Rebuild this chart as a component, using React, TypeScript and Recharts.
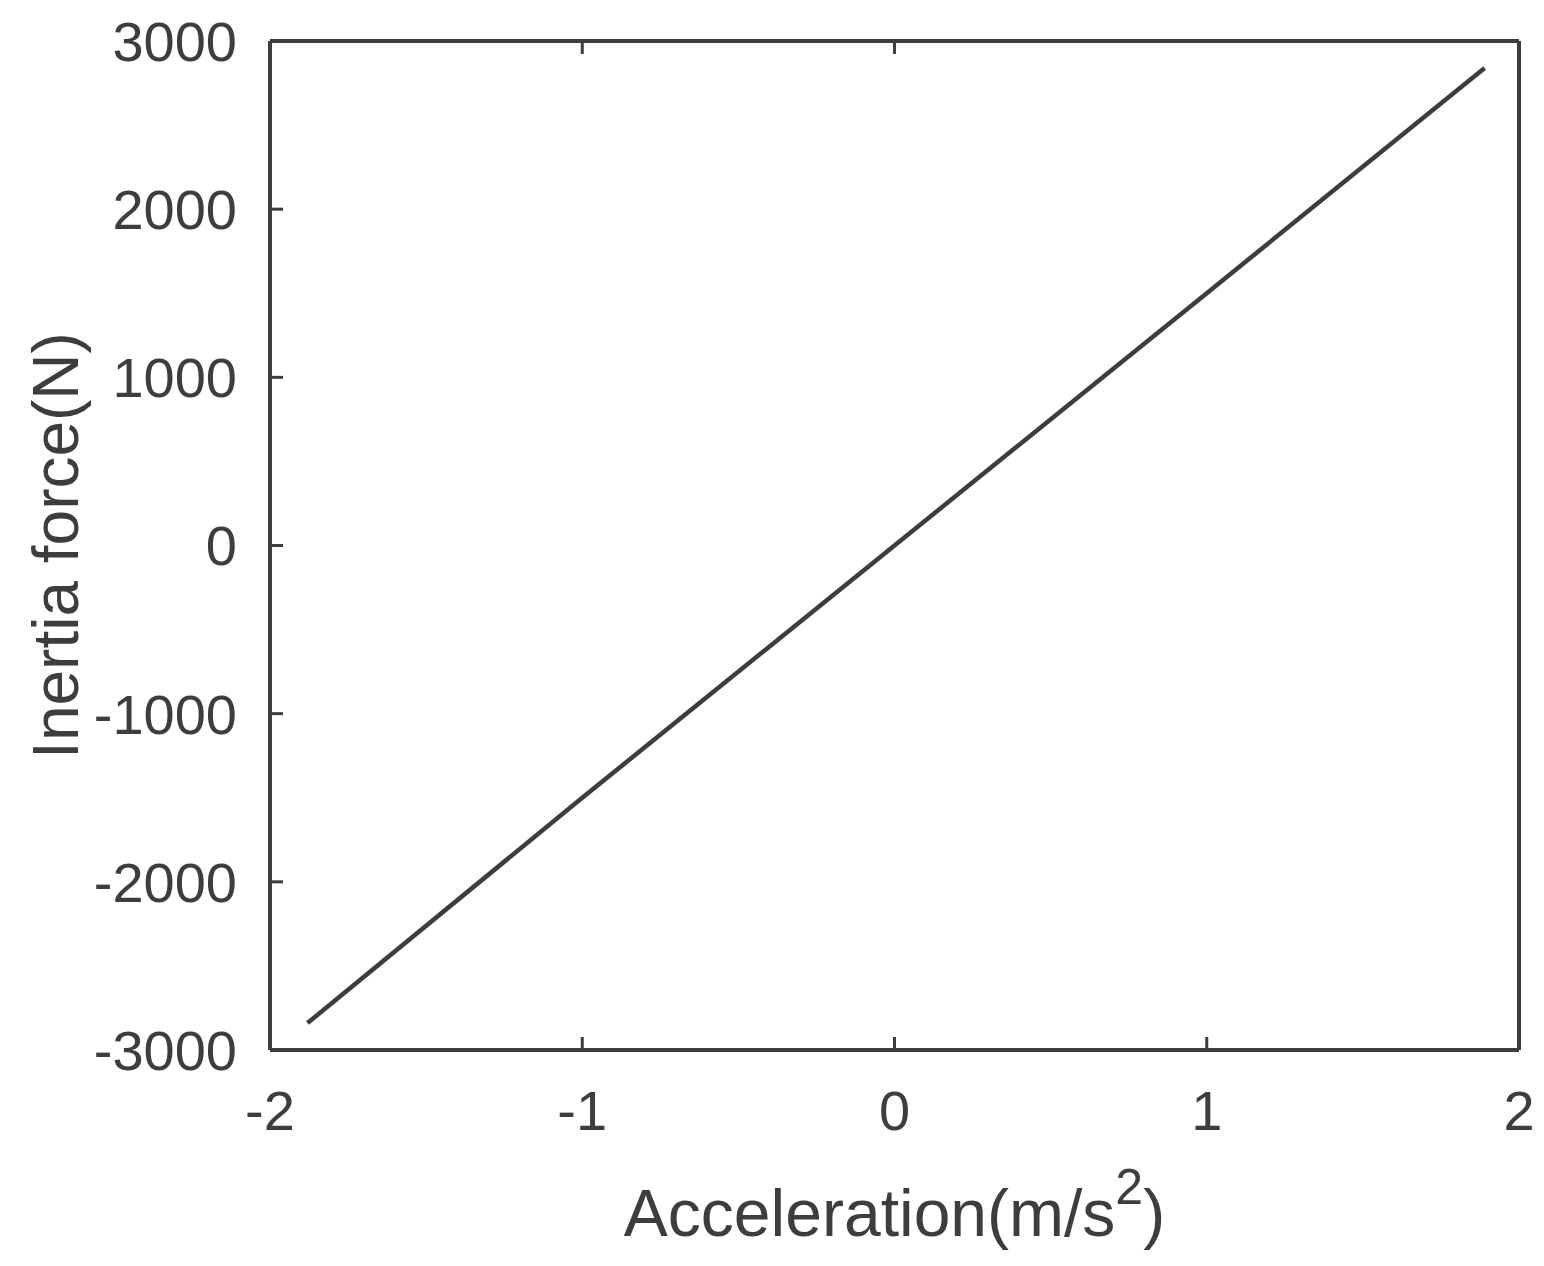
import { Label, Line, LineChart, XAxis, YAxis } from "recharts";

const accel = [-1.88, -1, 0, 1, 1.89];
const force = [-2840, -1500, 0, 1500, 2840];
const xTicks = [-2, -1, 0, 1, 2];
const yTicks = [-3000, -2000, -1000, 0, 1000, 2000, 3000];

const data = accel.map((a, i) => ({ a, f: force[i] }));

const ink = "#3d3d3d";
const font = "'Liberation Sans', Arial, sans-serif";
const tickStyle = { fontSize: 56, fill: ink, fontFamily: font };
const axisLine = { stroke: ink, strokeWidth: 4 };
const tickLine = { stroke: ink, strokeWidth: 3 };

function XLabel({ viewBox }: any) {
  const cx = viewBox.x + viewBox.width / 2;
  return (
    <text x={cx} y={1236} textAnchor="middle" fontSize={66} fill={ink} fontFamily={font}>
      Acceleration(m/s
      <tspan dy={-32} fontSize={50}>2</tspan>
      <tspan dy={32}>)</tspan>
    </text>
  );
}

export default function App() {
  return (
    <div style={{ position: "absolute", left: 0, top: 0, background: "#fff" }}>
      <LineChart width={1544} height={1266} data={data} margin={{ top: 40, right: 24, bottom: 0, left: 0 }}>
        <XAxis
          dataKey="a"
          type="number"
          domain={[-2, 2]}
          ticks={xTicks}
          height={216}
          tickSize={-13}
          tickMargin={53}
          axisLine={axisLine}
          tickLine={tickLine}
          tick={tickStyle}
        >
          <Label content={XLabel} />
        </XAxis>
        <XAxis
          xAxisId="top"
          orientation="top"
          type="number"
          domain={[-2, 2]}
          ticks={xTicks}
          height={1}
          tickSize={-13}
          tickFormatter={() => ""}
          axisLine={axisLine}
          tickLine={tickLine}
        />
        <YAxis
          type="number"
          domain={[-3000, 3000]}
          ticks={yTicks}
          width={270}
          tickSize={-13}
          tickMargin={46}
          axisLine={axisLine}
          tickLine={tickLine}
          tick={tickStyle}
        >
          <Label
            value="Inertia force(N)"
            angle={-90}
            position="insideLeft"
            offset={55}
            style={{ textAnchor: "middle", fontSize: 64, fill: ink, fontFamily: font }}
          />
        </YAxis>
        <YAxis
          yAxisId="right"
          orientation="right"
          type="number"
          domain={[-3000, 3000]}
          ticks={yTicks}
          width={1}
          tickSize={-13}
          tickFormatter={() => ""}
          axisLine={axisLine}
          tickLine={tickLine}
        />
        <Line
          dataKey="f"
          type="linear"
          stroke={ink}
          strokeWidth={4.5}
          dot={false}
          isAnimationActive={false}
        />
      </LineChart>
    </div>
  );
}
